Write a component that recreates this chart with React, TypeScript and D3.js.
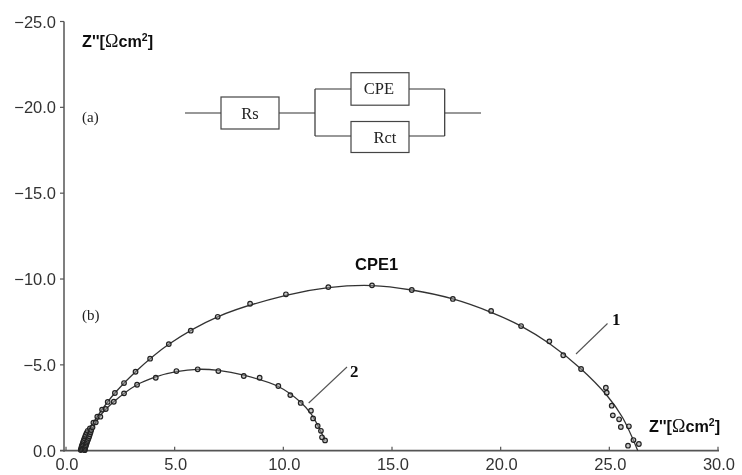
import React from "react";
import * as d3 from "d3";

const xTicks = [0, 5, 10, 15, 20, 25, 30];
const yTicks = [0, 5, 10, 15, 20, 25];
const tickLabel = (v: number) => v.toFixed(1);

type P = [number, number];
const series1Points: P[] = [
  [0.68, 0.04], [0.7, 0.1], [0.71, 0.17], [0.72, 0.24], [0.74, 0.31], [0.76, 0.38], [0.78, 0.46], [0.8, 0.54], [0.82, 0.62], [0.85, 0.72], [0.88, 0.82], [0.91, 0.92], [0.95, 1.04], [1.0, 1.16],
  [1.1, 1.3], [1.26, 1.63], [1.44, 1.98], [1.66, 2.39], [1.92, 2.84], [2.25, 3.36], [2.67, 3.94], [3.2, 4.6],
  [3.87, 5.36], [4.73, 6.21], [5.74, 6.99], [6.98, 7.8], [8.47, 8.56], [10.12, 9.11], [12.07, 9.53], [14.08, 9.63], [15.91, 9.36],
  [17.8, 8.84], [19.56, 8.14], [20.94, 7.26], [22.24, 6.37], [22.88, 5.56], [23.7, 4.76], [24.84, 3.67], [24.88, 3.38], [25.11, 2.62],
  [25.16, 2.06], [25.45, 1.83], [25.53, 1.38], [25.9, 1.42], [26.11, 0.62], [25.86, 0.29], [26.36, 0.39],
];
const series2Points: P[] = [
  [0.86, 0.03], [0.87, 0.1], [0.88, 0.17], [0.9, 0.24], [0.92, 0.32], [0.94, 0.4], [0.96, 0.48], [0.98, 0.56], [1.01, 0.64], [1.04, 0.74], [1.07, 0.84], [1.1, 0.96], [1.13, 1.08], [1.16, 1.2],
  [1.22, 1.36], [1.37, 1.65], [1.58, 1.98], [1.83, 2.43], [2.2, 2.85], [2.67, 3.34], [3.27, 3.84], [4.13, 4.25], [5.08, 4.64],
  [6.06, 4.74], [7.01, 4.64], [8.18, 4.35], [8.91, 4.25], [9.77, 3.77], [10.32, 3.24], [10.8, 2.78], [11.27, 2.33], [11.37, 1.88],
  [11.58, 1.44], [11.73, 1.16], [11.78, 0.78], [11.92, 0.6],
];
const series1Fit: P[] = [
  [0.66, 0], [0.85, 0.72], [1.15, 1.42], [1.66, 2.4], [2.25, 3.36], [3.2, 4.6], [4.73, 6.2], [6.98, 7.8], [10.12, 9.05], [12.07, 9.5], [14.08, 9.62],
  [15.91, 9.36], [17.8, 8.84], [19.56, 8.06], [20.94, 7.26], [22.24, 6.24], [23.7, 4.76], [24.9, 3.2], [25.6, 1.95], [26.31, 0],
];
const series2Fit: P[] = [
  [0.84, 0], [1.02, 0.66], [1.25, 1.36], [1.58, 2.05], [2.2, 2.85], [3.27, 3.84], [4.13, 4.3], [5.08, 4.6], [6.06, 4.74], [7.01, 4.68],
  [8.18, 4.4], [9.77, 3.74], [10.8, 2.82], [11.3, 2.1], [11.6, 1.44], [11.92, 0.6],
];

const x = d3.scaleLinear().domain([0, 30]).range([66, 718]);
const y = d3.scaleLinear().domain([0, 25]).range([450.7, 21.5]);
const line = d3.line<P>().x((d) => x(d[0])).y((d) => y(d[1])).curve(d3.curveCatmullRom.alpha(0.5));

const sans = "'Liberation Sans', Arial, sans-serif";
const serif = "'Liberation Serif', 'Times New Roman', serif";
const axisColor = "#555";
const ink = "#222";

const Box = ({ bx, by, w, h, label, lx }: { bx: number; by: number; w: number; h: number; label: string; lx: number }) => (
  <g>
    <rect x={bx} y={by} width={w} height={h} fill="#fff" stroke="#444" strokeWidth={1.2} />
    <text x={lx} y={by + h / 2 + 5.5} textAnchor="middle" fontFamily={serif} fontSize={16.5} fill={ink}>{label}</text>
  </g>
);

const AxisTitle = ({ tx, ty }: { tx: number; ty: number }) => (
  <text x={tx} y={ty} fontFamily={sans} fontSize={16.2} fontWeight="bold" fill="#111">
    Z''[<tspan fontFamily={serif} fontWeight="normal" fontSize={18}>Ω</tspan>cm<tspan dy={-6} fontSize={10.5}>2</tspan><tspan dy={6}>]</tspan>
  </text>
);

export default function App() {
  return (
    <svg width={742} height={475} viewBox="0 0 742 475" style={{ position: "absolute", left: 0, top: 0, background: "#fff" }}>
      <defs>
        <filter id="soft" x="-2%" y="-2%" width="104%" height="104%">
          <feGaussianBlur stdDeviation={0.45} />
        </filter>
      </defs>
      <g filter="url(#soft)">
        {/* axes */}
        <line x1={64} x2={64} y1={y(25)} y2={y(0) + 1} stroke={axisColor} strokeWidth={1.5} />
        <line x1={60} x2={x(30) + 1} y1={y(0)} y2={y(0)} stroke={axisColor} strokeWidth={1.8} />
        {yTicks.map((t) => (
          <g key={t}>
            {t > 0 && <line x1={60} x2={64} y1={y(t)} y2={y(t)} stroke={axisColor} strokeWidth={1.2} />}
            <text x={56} y={y(t) + 6} textAnchor="end" fontFamily={sans} fontSize={16.5} fill="#333">
              {t === 0 ? tickLabel(t) : `−${tickLabel(t)}`}
            </text>
          </g>
        ))}
        {xTicks.map((t) => (
          <g key={t}>
            <line x1={x(t)} x2={x(t)} y1={y(0) - 4} y2={y(0)} stroke={axisColor} strokeWidth={1.2} />
            <text x={x(t) + 1} y={470} textAnchor="middle" fontFamily={sans} fontSize={16.5} fill="#333">{tickLabel(t)}</text>
          </g>
        ))}

        {/* fitted curves and measured points */}
        <path d={line(series1Fit) ?? ""} fill="none" stroke="#333" strokeWidth={1.3} />
        <path d={line(series2Fit) ?? ""} fill="none" stroke="#333" strokeWidth={1.3} />
        {[...series1Points, ...series2Points].map((d, i) => (
          <circle key={i} cx={x(d[0])} cy={y(d[1])} r={2.3} fill="#999" fillOpacity={0.55} stroke="#222" strokeWidth={1.2} />
        ))}

        {/* labels */}
        <AxisTitle tx={82} ty={47} />
        <AxisTitle tx={649} ty={432} />
        <text x={82} y={122} fontFamily={serif} fontSize={15} fill={ink}>(a)</text>
        <text x={82} y={320} fontFamily={serif} fontSize={15} fill={ink}>(b)</text>
        <text x={355} y={270} fontFamily={sans} fontSize={16.5} fontWeight="bold" fill="#111">CPE1</text>

        {/* leaders */}
        <line x1={576} y1={354} x2={607.5} y2={323.5} stroke="#555" strokeWidth={1.1} />
        <text x={612} y={325} fontFamily={serif} fontSize={17} fontWeight="bold" fill="#111">1</text>
        <line x1={308.7} y1={403} x2={347} y2={367} stroke="#555" strokeWidth={1.1} />
        <text x={350} y={377} fontFamily={serif} fontSize={17} fontWeight="bold" fill="#111">2</text>

        {/* equivalent circuit */}
        <g fill="none" stroke="#333" strokeWidth={1.2}>
          <path d="M185 113H221M279 113H315M315 89V136M315 89H351M315 136H351M409 89H444.7M409 136H444.7M444.7 89V136M444.7 113H481" />
        </g>
        <Box bx={221} by={97} w={58} h={32} label="Rs" lx={250} />
        <Box bx={351} by={72.7} w={58} h={32.5} label="CPE" lx={379} />
        <Box bx={351} by={121.5} w={58} h={31} label="Rct" lx={385} />
      </g>
    </svg>
  );
}
